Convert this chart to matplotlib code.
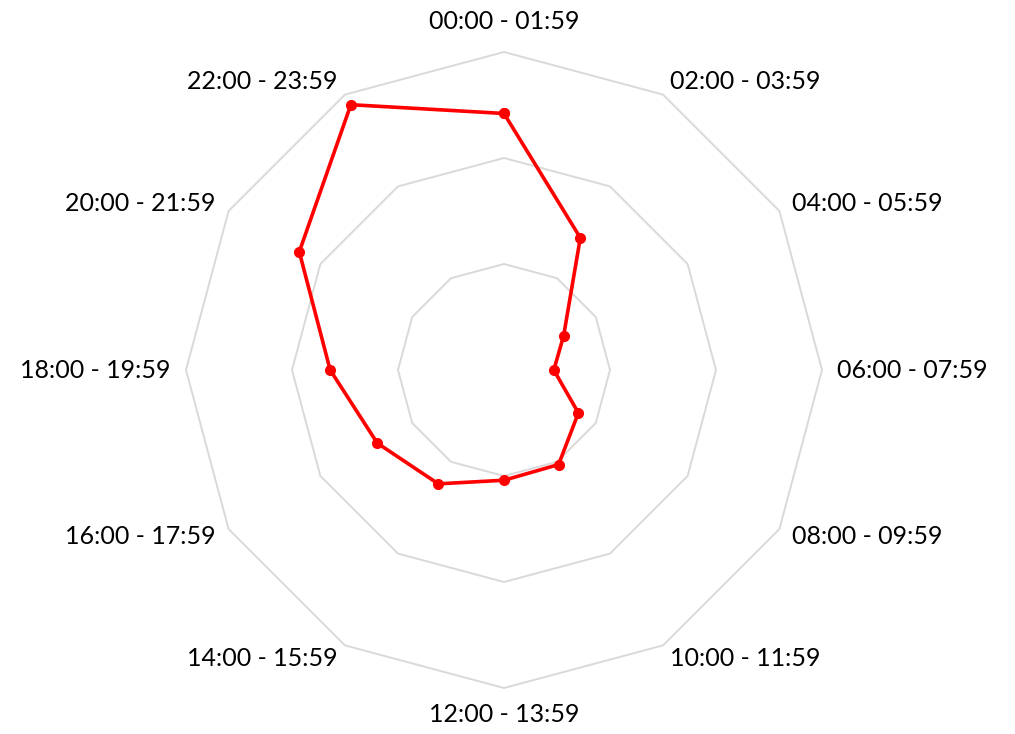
import matplotlib
matplotlib.use("Agg")
import matplotlib.pyplot as plt
import numpy as np

# categories (two-hour slots), clockwise from the top
CATEGORIES = [
    "00:00 - 01:59", "02:00 - 03:59", "04:00 - 05:59", "06:00 - 07:59",
    "08:00 - 09:59", "10:00 - 11:59", "12:00 - 13:59", "14:00 - 15:59",
    "16:00 - 17:59", "18:00 - 19:59", "20:00 - 21:59", "22:00 - 23:59",
]
# values (axis 0..30, rings every 10)
VALUES = [24.2, 14.4, 6.5, 4.7, 8.1, 10.3, 10.4, 12.4, 13.8, 16.4, 22.3, 28.9]
RINGS = [10, 20, 30]
R_MAX = 30

W, H = 1015, 734
CX, CY, R_PX = 504, 370, 318

fig = plt.figure(figsize=(W / 100, H / 100), dpi=100)
ax = fig.add_axes(
    [(CX - R_PX) / W, (H - CY - R_PX) / H, 2 * R_PX / W, 2 * R_PX / H],
    projection="polar",
)
ax.set_theta_zero_location("N")
ax.set_theta_direction(-1)
ax.set_ylim(0, R_MAX)
ax.grid(False)
ax.spines["polar"].set_visible(False)
ax.set_xticks([])
ax.set_yticks([])
ax.patch.set_alpha(0)

n = len(CATEGORIES)
theta = np.arange(n) * 2 * np.pi / n
theta_closed = np.append(theta, theta[0])

for ring in RINGS:
    ax.plot(theta_closed, [ring] * (n + 1), color="#d9d9d9", lw=1.4, zorder=1, clip_on=False)

ax.plot(theta_closed, VALUES + VALUES[:1], color="#ff0000", lw=2.6,
        marker="o", markersize=7, zorder=3, clip_on=False)

for t, label in zip(theta, CATEGORIES):
    s = np.sin(t)
    c = np.cos(t)
    pad = 15
    if abs(s) < 1e-6:
        ha = "center"
        va = "bottom" if c > 0 else "top"
        if c > 0:
            pad = 19
    else:
        ha = "left" if s > 0 else "right"
        va = "center"
    label_r = R_MAX * (R_PX + pad) / R_PX
    ax.text(t, label_r, label, ha=ha, va=va, fontsize=18,
            family="Lato", color="#000000", clip_on=False)

fig.savefig("out.png", dpi=100)
